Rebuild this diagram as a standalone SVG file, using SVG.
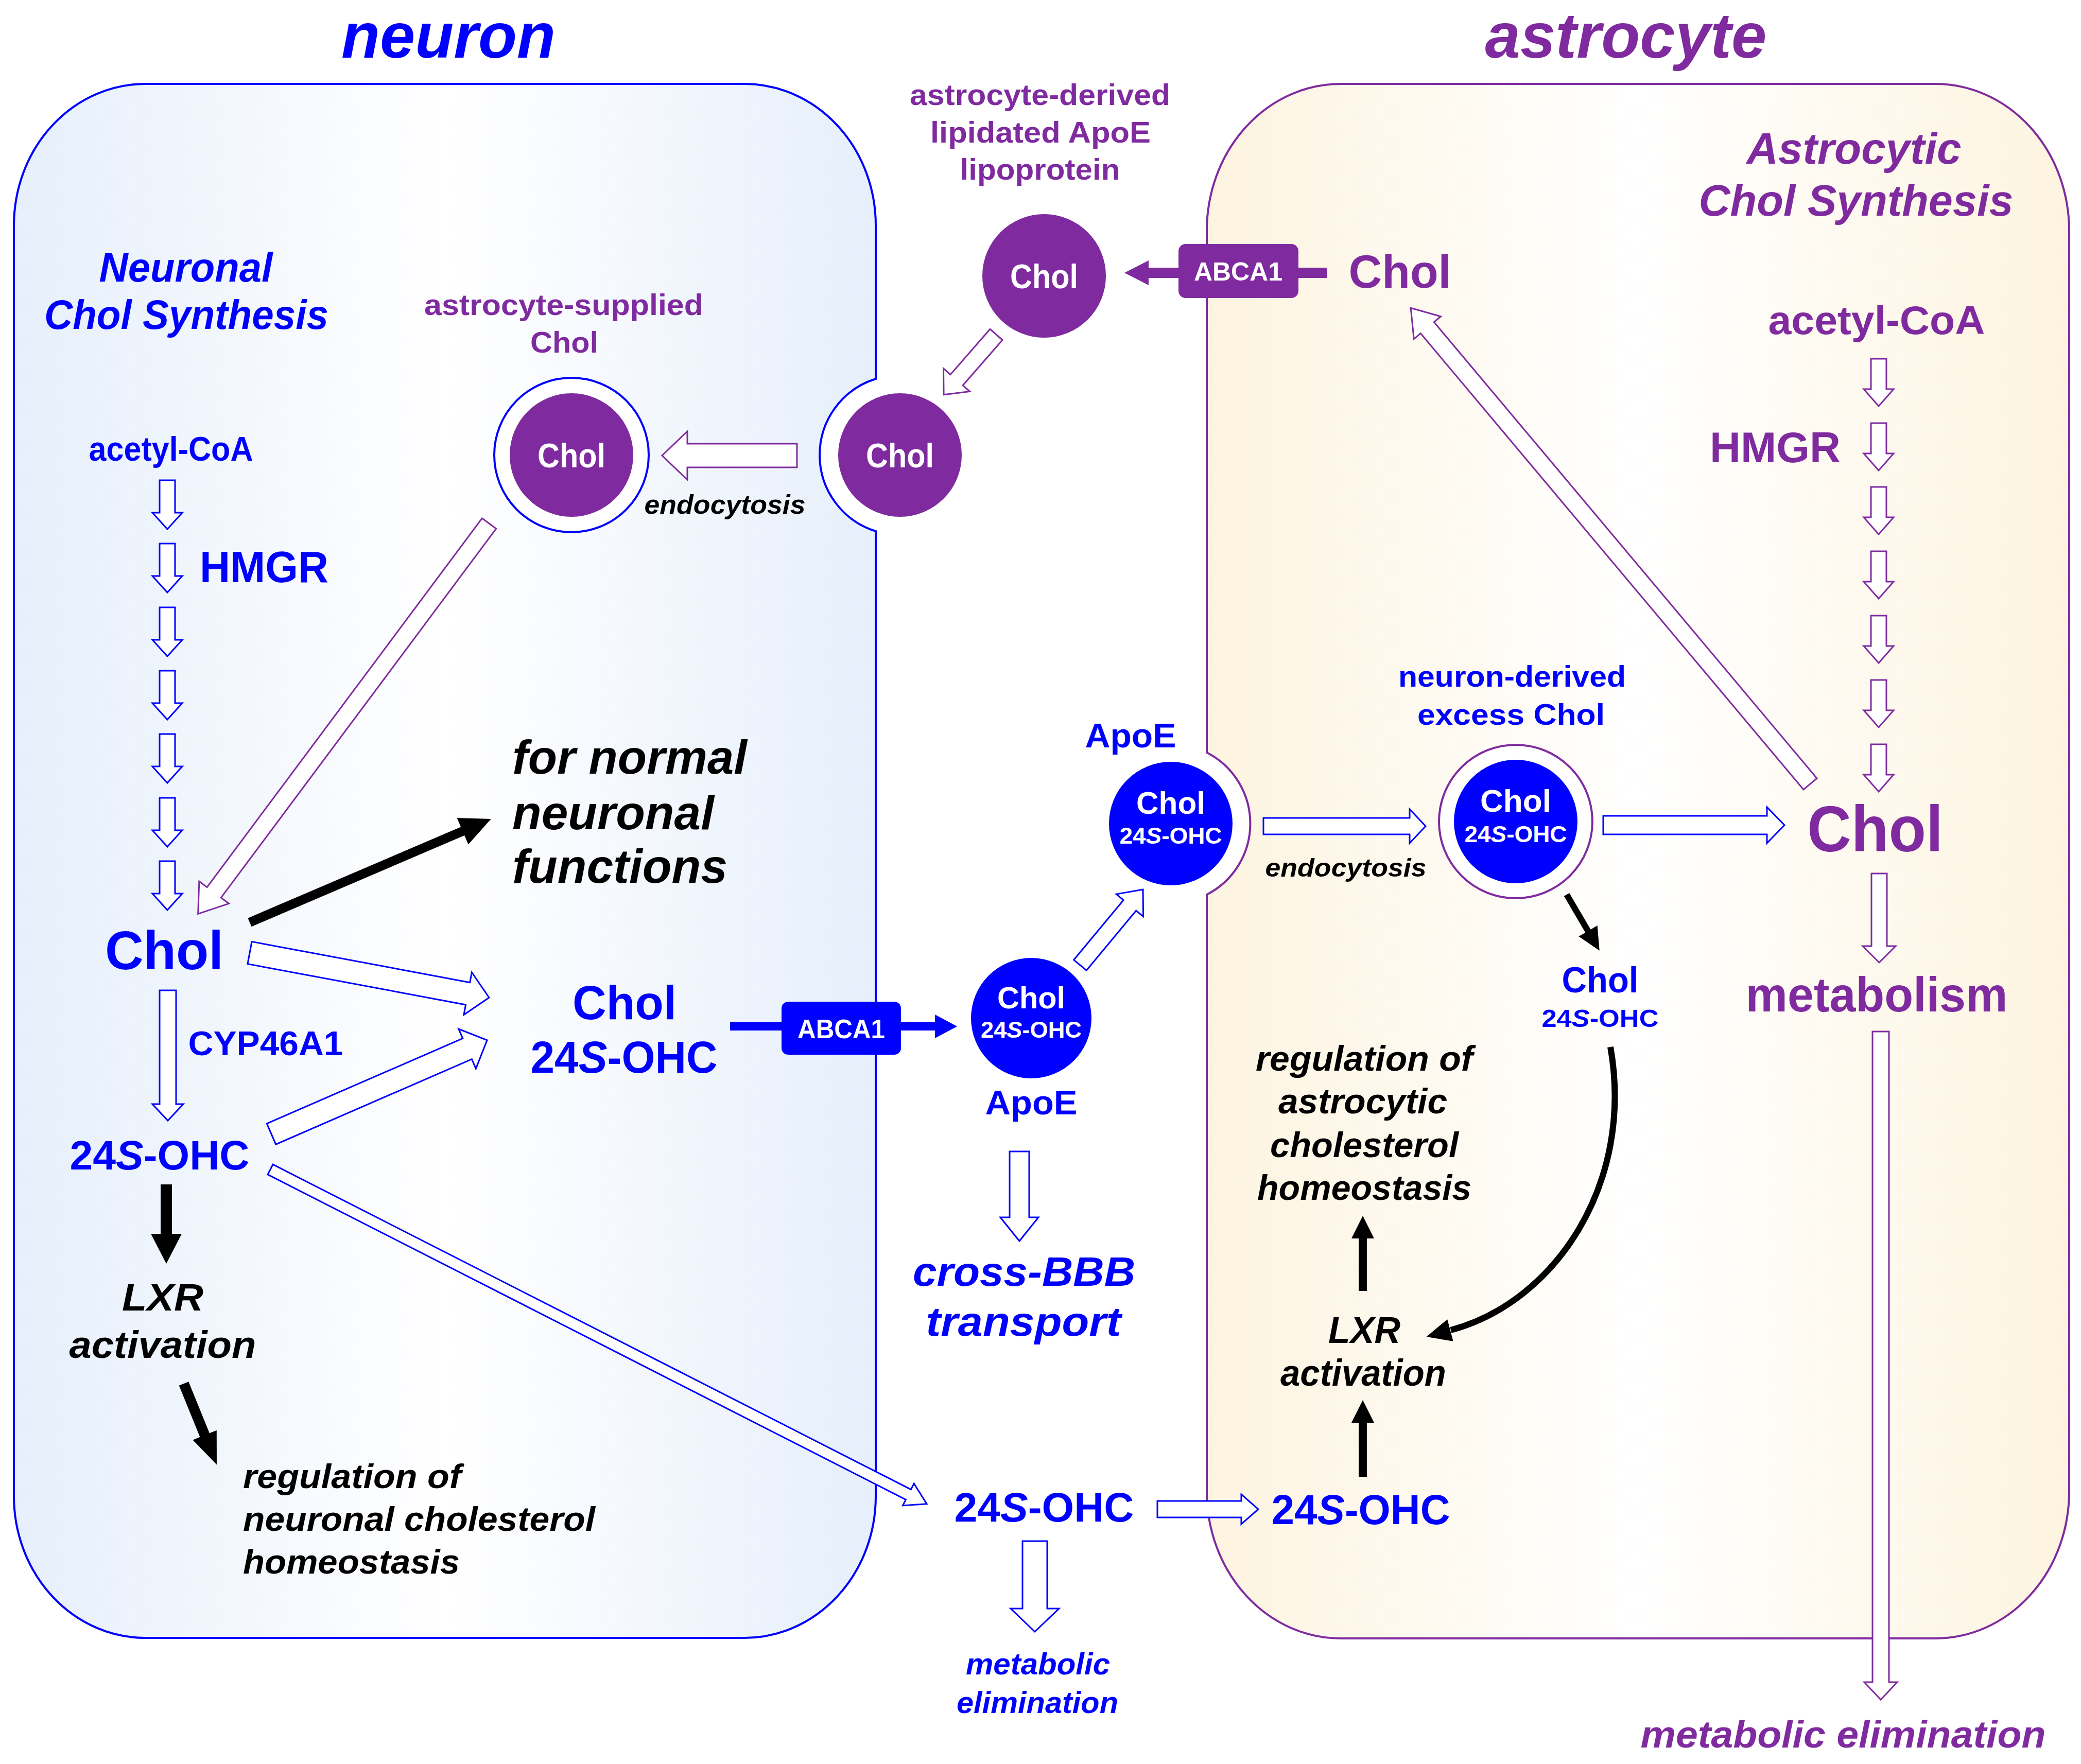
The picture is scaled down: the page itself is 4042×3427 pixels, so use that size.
<svg xmlns="http://www.w3.org/2000/svg" width="4042" height="3427" viewBox="0 0 4042 3427">
<style>
text{font-family:"Liberation Sans",Arial,Helvetica,sans-serif;font-weight:bold;text-anchor:middle}
.i{font-style:italic}
.bl{fill:#0000FF}
.pu{fill:#7F2B9F}
.k{fill:#000}
.w{fill:#FFFFFF}
.st{text-anchor:start}
.ha{fill:#FFFFFF;stroke-width:3;stroke-linejoin:miter}
.hb{stroke:#0000FF}
.hp{stroke:#7F2B9F}
.sa{fill:#000;stroke:none}
</style>
<defs>
<linearGradient id="gN" x1="0" y1="0" x2="1" y2="0">
<stop offset="0" stop-color="#E6EFFB"/><stop offset="0.5" stop-color="#FFFFFF"/><stop offset="1" stop-color="#E6EFFB"/>
</linearGradient>
<linearGradient id="gA" x1="0" y1="0" x2="1" y2="0">
<stop offset="0" stop-color="#FDF4E0"/><stop offset="0.5" stop-color="#FFFFFF"/><stop offset="1" stop-color="#FDF4E0"/>
</linearGradient>
</defs>
<rect width="4042" height="3427" fill="#FFFFFF"/>

<g id="neuron-cell">
<path d="M282,163 H1446 A255,275 0 0 1 1701,438 V736 A155,155 0 0 0 1701,1032 V2907 A255,275 0 0 1 1446,3182 H282 A255,275 0 0 1 27,2907 V438 A255,275 0 0 1 282,163 Z" fill="url(#gN)" stroke="#0000FF" stroke-width="4"/>
<text x="871" y="112" font-size="124" class="i bl" textLength="416" lengthAdjust="spacingAndGlyphs">neuron</text>
</g>

<g id="astrocyte-cell">
<path d="M2604,163 H3759 A260,285 0 0 1 4019,448 V2898 A260,285 0 0 1 3759,3183 H2604 A260,285 0 0 1 2344,2898 V1738 A155,155 0 0 0 2344,1462 V448 A260,285 0 0 1 2604,163 Z" fill="url(#gA)" stroke="#7F2B9F" stroke-width="4"/>
<text x="3158" y="112" font-size="124" class="i pu" textLength="547" lengthAdjust="spacingAndGlyphs">astrocyte</text>
</g>

<g id="connectors">
<polygon class="ha hb" transform="translate(325,933) rotate(90)" points="0,-15 63,-15 63,-29 95,0 63,29 63,15 0,15"/>
<polygon class="ha hb" transform="translate(325,1056) rotate(90)" points="0,-15 63,-15 63,-29 95,0 63,29 63,15 0,15"/>
<polygon class="ha hb" transform="translate(325,1180) rotate(90)" points="0,-15 63,-15 63,-29 95,0 63,29 63,15 0,15"/>
<polygon class="ha hb" transform="translate(325,1303) rotate(90)" points="0,-15 63,-15 63,-29 95,0 63,29 63,15 0,15"/>
<polygon class="ha hb" transform="translate(325,1426) rotate(90)" points="0,-15 63,-15 63,-29 95,0 63,29 63,15 0,15"/>
<polygon class="ha hb" transform="translate(325,1550) rotate(90)" points="0,-15 63,-15 63,-29 95,0 63,29 63,15 0,15"/>
<polygon class="ha hb" transform="translate(325,1673) rotate(90)" points="0,-15 63,-15 63,-29 95,0 63,29 63,15 0,15"/>
<polygon class="ha hb" transform="translate(326,1924) rotate(90)" points="0,-16 221,-16 221,-30 253,0 221,30 221,16 0,16"/>
<polygon class="ha hp" transform="translate(3649,697) rotate(90)" points="0,-15 59,-15 59,-29 92,0 59,29 59,15 0,15"/>
<polygon class="ha hp" transform="translate(3649,822) rotate(90)" points="0,-15 59,-15 59,-29 92,0 59,29 59,15 0,15"/>
<polygon class="ha hp" transform="translate(3649,946) rotate(90)" points="0,-15 59,-15 59,-29 92,0 59,29 59,15 0,15"/>
<polygon class="ha hp" transform="translate(3649,1071) rotate(90)" points="0,-15 59,-15 59,-29 92,0 59,29 59,15 0,15"/>
<polygon class="ha hp" transform="translate(3649,1196) rotate(90)" points="0,-15 59,-15 59,-29 92,0 59,29 59,15 0,15"/>
<polygon class="ha hp" transform="translate(3649,1321) rotate(90)" points="0,-15 59,-15 59,-29 92,0 59,29 59,15 0,15"/>
<polygon class="ha hp" transform="translate(3649,1446) rotate(90)" points="0,-15 59,-15 59,-29 92,0 59,29 59,15 0,15"/>
<polygon class="ha hp" transform="translate(3650,1697) rotate(90)" points="0,-15 141,-15 141,-32 173,0 141,32 141,15 0,15"/>
<polygon class="ha hp" transform="translate(3653,2004) rotate(90)" points="0,-16 1264,-16 1264,-32 1298,0 1264,32 1264,16 0,16"/>
<polygon class="ha hb" transform="translate(3114,1603)" points="0,-18 318,-18 318,-35 352,0 318,35 318,18 0,18"/>
<polygon class="ha hb" transform="translate(2454,1605)" points="0,-16 284,-16 284,-33 315,0 284,33 284,16 0,16"/>
<polygon class="ha hb" transform="translate(2098,1875) rotate(-50.3)" points="0,-16 151,-16 151,-34 191,0 151,34 151,16 0,16"/>
<polygon class="ha hb" transform="translate(1980,2237) rotate(90)" points="0,-19 128,-19 128,-37 174,0 128,37 128,19 0,19"/>
<polygon class="ha hb" transform="translate(2248,2932)" points="0,-16 163,-16 163,-29 196,0 163,29 163,16 0,16"/>
<polygon class="ha hb" transform="translate(2010,2994) rotate(90)" points="0,-24 131,-24 131,-47 176,0 131,47 131,24 0,24"/>
<polygon class="ha hb" transform="translate(525,2272) rotate(27)" points="0,-11 1391,-11 1391,-24 1431,0 1391,24 1391,11 0,11"/>
<polygon class="ha hb" transform="translate(485,1851) rotate(10.6)" points="0,-22 431,-22 431,-42 473,0 431,42 431,22 0,22"/>
<polygon class="ha hb" transform="translate(527,2203) rotate(-23.5)" points="0,-22 415,-22 415,-42 457,0 415,42 415,22 0,22"/>
<polygon class="ha hp" transform="translate(950,1017) rotate(126.7)" points="0,-17 894,-17 894,-36 946,0 894,36 894,17 0,17"/>
<polygon class="ha hp" transform="translate(1548,885) rotate(180)" points="0,-23 213,-23 213,-47 262,0 213,47 213,23 0,23"/>
<polygon class="ha hp" transform="translate(1935,650) rotate(131.1)" points="0,-16 117,-16 117,-34 155,0 117,34 117,16 0,16"/>
<polygon class="ha hp" transform="translate(3516,1523) rotate(-130)" points="0,-17 1157,-17 1157,-34 1207,0 1157,34 1157,17 0,17"/>

<polygon class="sa" transform="translate(485,1792) rotate(-23.2)" points="0,-9 450,-9 450,-28 510,0 450,28 450,9 0,9"/>
<polygon class="sa" transform="translate(323,2301) rotate(90)" points="0,-11 96,-11 96,-30 154,0 96,30 96,11 0,11"/>
<polygon class="sa" transform="translate(357,2688) rotate(67.9)" points="0,-10 108,-10 108,-25 170,0 108,25 108,10 0,10"/>
<polygon class="sa" transform="translate(3043,1738) rotate(59.6)" points="0,-6 82,-6 82,-21 126,0 82,21 82,6 0,6"/>
<polygon class="sa" transform="translate(2647,2508) rotate(-90)" points="0,-8 102,-8 102,-22 146,0 102,22 102,8 0,8"/>
<polygon class="sa" transform="translate(2647,2869) rotate(-90)" points="0,-8 105,-8 105,-22 149,0 105,22 105,8 0,8"/>
<path d="M3128,2034 C3175,2300 3020,2530 2818,2584" fill="none" stroke="#000" stroke-width="12"/>
<polygon class="sa" transform="translate(2815,2585) rotate(165)" points="-2,-22 46,0 -2,22"/>

<line x1="2577" y1="530" x2="2226" y2="530" stroke="#7F2B9F" stroke-width="20"/>
<polygon fill="#7F2B9F" points="2231,506 2184,530 2231,554"/>
<line x1="1418" y1="1994" x2="1820" y2="1994" stroke="#0000FF" stroke-width="16"/>
<polygon fill="#0000FF" points="1816,1971 1859,1994 1816,2017"/>
</g>

<g id="neuronal-synthesis-label">
<text x="361" y="547" font-size="80" class="i bl" textLength="337" lengthAdjust="spacingAndGlyphs">Neuronal</text>
<text x="362" y="639" font-size="80" class="i bl" textLength="552" lengthAdjust="spacingAndGlyphs">Chol Synthesis</text>
</g>
<g id="n-acetylcoa"><text x="332" y="895" font-size="66" class="bl" textLength="319" lengthAdjust="spacingAndGlyphs">acetyl-CoA</text></g>
<g id="n-hmgr"><text x="513" y="1131" font-size="85" class="bl" textLength="250" lengthAdjust="spacingAndGlyphs">HMGR</text></g>
<g id="n-chol"><text x="319" y="1883" font-size="106" class="bl" textLength="230" lengthAdjust="spacingAndGlyphs">Chol</text></g>
<g id="n-cyp"><text x="516" y="2050" font-size="67" class="bl" textLength="301" lengthAdjust="spacingAndGlyphs">CYP46A1</text></g>
<g id="n-24s"><text x="310" y="2272" font-size="80" class="bl" textLength="349" lengthAdjust="spacingAndGlyphs">24<tspan class="i">S</tspan>-OHC</text></g>
<g id="n-lxr">
<text x="316" y="2546" font-size="74" class="i k" textLength="158" lengthAdjust="spacingAndGlyphs">LXR</text>
<text x="316" y="2638" font-size="74" class="i k" textLength="363" lengthAdjust="spacingAndGlyphs">activation</text>
</g>
<g id="n-regulation">
<text x="472" y="2891" font-size="66" class="i k st" textLength="424" lengthAdjust="spacingAndGlyphs">regulation of</text>
<text x="472" y="2974" font-size="66" class="i k st" textLength="684" lengthAdjust="spacingAndGlyphs">neuronal cholesterol</text>
<text x="472" y="3057" font-size="66" class="i k st" textLength="421" lengthAdjust="spacingAndGlyphs">homeostasis</text>
</g>
<g id="n-functions">
<text x="995" y="1503" font-size="92" class="i k st" textLength="456" lengthAdjust="spacingAndGlyphs">for normal</text>
<text x="995" y="1611" font-size="92" class="i k st" textLength="392" lengthAdjust="spacingAndGlyphs">neuronal</text>
<text x="995" y="1715" font-size="92" class="i k st" textLength="418" lengthAdjust="spacingAndGlyphs">functions</text>
</g>
<g id="astrocyte-supplied-chol">
<text x="1095" y="612" font-size="58" class="pu" textLength="542" lengthAdjust="spacingAndGlyphs">astrocyte-supplied</text>
<text x="1096" y="685" font-size="58" class="pu" textLength="132" lengthAdjust="spacingAndGlyphs">Chol</text>
<circle cx="1110" cy="884" r="150" fill="#FFFFFF" stroke="#0000FF" stroke-width="4"/>
<circle cx="1110" cy="884" r="120" fill="#7F2B9F"/>
<text x="1110" y="908" font-size="67" class="w" textLength="132" lengthAdjust="spacingAndGlyphs">Chol</text>
</g>
<g id="n-endocytosis"><text x="1408" y="998" font-size="52" class="i k" textLength="313" lengthAdjust="spacingAndGlyphs">endocytosis</text></g>
<g id="membrane-chol">
<circle cx="1748" cy="884" r="120" fill="#7F2B9F"/>
<text x="1748" y="908" font-size="67" class="w" textLength="132" lengthAdjust="spacingAndGlyphs">Chol</text>
</g>
<g id="lipoprotein">
<text x="2020" y="204" font-size="58" class="pu" textLength="506" lengthAdjust="spacingAndGlyphs">astrocyte-derived</text>
<text x="2021" y="277" font-size="58" class="pu" textLength="428" lengthAdjust="spacingAndGlyphs">lipidated ApoE</text>
<text x="2020" y="349" font-size="58" class="pu" textLength="311" lengthAdjust="spacingAndGlyphs">lipoprotein</text>
<circle cx="2028" cy="536" r="120" fill="#7F2B9F"/>
<text x="2028" y="560" font-size="67" class="w" textLength="132" lengthAdjust="spacingAndGlyphs">Chol</text>
</g>
<g id="abca1-astro">
<rect x="2289" y="474" width="233" height="105" rx="14" fill="#7F2B9F"/>
<text x="2405" y="545" font-size="50" class="w" textLength="172" lengthAdjust="spacingAndGlyphs">ABCA1</text>
</g>
<g id="a-chol-top"><text x="2719" y="559" font-size="90" class="pu" textLength="199" lengthAdjust="spacingAndGlyphs">Chol</text></g>
<g id="astrocytic-synthesis-label">
<text x="3601" y="318" font-size="86" class="i pu" textLength="417" lengthAdjust="spacingAndGlyphs">Astrocytic</text>
<text x="3605" y="419" font-size="86" class="i pu" textLength="611" lengthAdjust="spacingAndGlyphs">Chol Synthesis</text>
</g>
<g id="a-acetylcoa"><text x="3645" y="649" font-size="78" class="pu" textLength="421" lengthAdjust="spacingAndGlyphs">acetyl-CoA</text></g>
<g id="a-hmgr"><text x="3448" y="898" font-size="84" class="pu" textLength="254" lengthAdjust="spacingAndGlyphs">HMGR</text></g>
<g id="a-chol"><text x="3642" y="1654" font-size="127" class="pu" textLength="264" lengthAdjust="spacingAndGlyphs">Chol</text></g>
<g id="a-metabolism"><text x="3645" y="1965" font-size="95" class="pu" textLength="509" lengthAdjust="spacingAndGlyphs">metabolism</text></g>
<g id="a-elimination"><text x="3580" y="3395" font-size="75" class="i pu" textLength="787" lengthAdjust="spacingAndGlyphs">metabolic elimination</text></g>
<g id="neuron-derived-chol">
<text x="2937" y="1334" font-size="58" class="bl" textLength="442" lengthAdjust="spacingAndGlyphs">neuron-derived</text>
<text x="2935" y="1408" font-size="58" class="bl" textLength="364" lengthAdjust="spacingAndGlyphs">excess Chol</text>
<circle cx="2944" cy="1596" r="149" fill="#FFFFFF" stroke="#7F2B9F" stroke-width="4"/>
<circle cx="2944" cy="1596" r="120" fill="#0000FF"/>
<text x="2944" y="1577" font-size="62" class="w" textLength="138" lengthAdjust="spacingAndGlyphs">Chol</text>
<text x="2944" y="1636" font-size="45" class="w" textLength="199" lengthAdjust="spacingAndGlyphs">24<tspan class="i">S</tspan>-OHC</text>
</g>
<g id="a-endocytosis"><text x="2614" y="1703" font-size="50" class="i k" textLength="313" lengthAdjust="spacingAndGlyphs">endocytosis</text></g>
<g id="apoe-membrane">
<text x="2196" y="1452" font-size="66" class="bl" textLength="177" lengthAdjust="spacingAndGlyphs">ApoE</text>
<circle cx="2274" cy="1600" r="120" fill="#0000FF"/>
<text x="2274" y="1581" font-size="62" class="w" textLength="134" lengthAdjust="spacingAndGlyphs">Chol</text>
<text x="2274" y="1639" font-size="45" class="w" textLength="199" lengthAdjust="spacingAndGlyphs">24<tspan class="i">S</tspan>-OHC</text>
</g>
<g id="a-chol-24s">
<text x="3108" y="1928" font-size="71" class="bl" textLength="149" lengthAdjust="spacingAndGlyphs">Chol</text>
<text x="3108" y="1995" font-size="49" class="bl" textLength="227" lengthAdjust="spacingAndGlyphs">24<tspan class="i">S</tspan>-OHC</text>
</g>
<g id="a-regulation">
<text x="2650" y="2080" font-size="68" class="i k" textLength="422" lengthAdjust="spacingAndGlyphs">regulation of</text>
<text x="2647" y="2163" font-size="68" class="i k" textLength="328" lengthAdjust="spacingAndGlyphs">astrocytic</text>
<text x="2650" y="2248" font-size="68" class="i k" textLength="366" lengthAdjust="spacingAndGlyphs">cholesterol</text>
<text x="2650" y="2331" font-size="68" class="i k" textLength="416" lengthAdjust="spacingAndGlyphs">homeostasis</text>
</g>
<g id="a-lxr">
<text x="2650" y="2609" font-size="72" class="i k" textLength="140" lengthAdjust="spacingAndGlyphs">LXR</text>
<text x="2648" y="2692" font-size="72" class="i k" textLength="322" lengthAdjust="spacingAndGlyphs">activation</text>
</g>
<g id="a-24s"><text x="2643" y="2961" font-size="81" class="bl" textLength="347" lengthAdjust="spacingAndGlyphs">24<tspan class="i">S</tspan>-OHC</text></g>
<g id="m-24s"><text x="2028" y="2956" font-size="80" class="bl" textLength="349" lengthAdjust="spacingAndGlyphs">24<tspan class="i">S</tspan>-OHC</text></g>
<g id="m-elimination">
<text x="2016" y="3253" font-size="60" class="i bl" textLength="280" lengthAdjust="spacingAndGlyphs">metabolic</text>
<text x="2015" y="3328" font-size="60" class="i bl" textLength="314" lengthAdjust="spacingAndGlyphs">elimination</text>
</g>
<g id="cross-bbb">
<text x="1989" y="2498" font-size="80" class="i bl" textLength="432" lengthAdjust="spacingAndGlyphs">cross-BBB</text>
<text x="1988" y="2595" font-size="80" class="i bl" textLength="379" lengthAdjust="spacingAndGlyphs">transport</text>
</g>
<g id="apoe-lower">
<circle cx="2003" cy="1978" r="117" fill="#0000FF"/>
<text x="2003" y="1959" font-size="60" class="w" textLength="132" lengthAdjust="spacingAndGlyphs">Chol</text>
<text x="2003" y="2016" font-size="44" class="w" textLength="196" lengthAdjust="spacingAndGlyphs">24<tspan class="i">S</tspan>-OHC</text>
<text x="2003" y="2165" font-size="67" class="bl" textLength="179" lengthAdjust="spacingAndGlyphs">ApoE</text>
</g>
<g id="m-chol-24s">
<text x="1213" y="1980" font-size="92" class="bl" textLength="202" lengthAdjust="spacingAndGlyphs">Chol</text>
<text x="1212" y="2084" font-size="88" class="bl" textLength="363" lengthAdjust="spacingAndGlyphs">24<tspan class="i">S</tspan>-OHC</text>
</g>
<g id="abca1-neuron">
<rect x="1518" y="1946" width="232" height="103" rx="13" fill="#0000FF"/>
<text x="1634" y="2017" font-size="52" class="w" textLength="170" lengthAdjust="spacingAndGlyphs">ABCA1</text>
</g>
</svg>
